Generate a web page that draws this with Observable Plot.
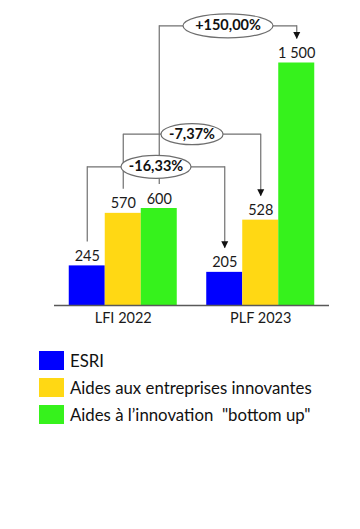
<!DOCTYPE html>
<html><head><meta charset="utf-8">
<script src="https://cdn.jsdelivr.net/npm/d3@7"></script>
<script src="https://cdn.jsdelivr.net/npm/@observablehq/plot@0.6"></script>
<style>
body{margin:0;background:#fff;font-family:Lato,sans-serif;}
#chart{height:335px;}
#legend{margin:16px 0 0 39px;}
.row{display:flex;align-items:center;height:19px;margin-bottom:8px;font-size:16.8px;color:#111;white-space:pre;}
.sw{width:25px;height:19px;margin-right:6px;flex:none;}
</style></head><body><div id="chart"></div><div id="legend"></div>
<script>
// ---- data ----
const groups = ["LFI 2022", "PLF 2023"];
const series = ["ESRI", "Aides aux entreprises innovantes", "Aides à l’innovation  \"bottom up\""];
const valuesLFI = [245, 570, 600];
const valuesPLF = [205, 528, 1500];
// annotations (which series, connector level in data units)
const annotSeries = [2, 1, 0];
const annotLevels = [1730, 1060, 858];

// ---- styles / layout ----
const colors = ["#0000FF", "#FFD814", "#36F21C"];
const lineColor = "#707070";
const barW = 36, step = 137.5, gap = 24;
const ellipseSizes = [[90, 24], [62, 21], [70, 23]];

const loc = d3.formatLocale({decimal: ",", thousands: "\u00a0", grouping: [3], currency: ["", " €"], minus: "-"});
const fmtInt = loc.format(",d");
const fmtPct = v => loc.format("+.2f")(v) + "%";

const rows = [];
groups.forEach((g, gi) => series.forEach((s, si) =>
  rows.push({group: g, series: si, value: (gi === 0 ? valuesLFI : valuesPLF)[si]})));

const annots = annotSeries.map((s, i) => ({
  series: s, from: groups[0], to: groups[1], a: valuesLFI[s], b: valuesPLF[s],
  level: annotLevels[i], label: fmtPct((valuesPLF[s] - valuesLFI[s]) / valuesLFI[s] * 100)
}));

function ellipse(w, h) {
  const rx = w / 2, ry = h / 2, k = 0.5523;
  return {draw(ctx) {
    ctx.moveTo(rx, 0);
    ctx.bezierCurveTo(rx, k * ry, k * rx, ry, 0, ry);
    ctx.bezierCurveTo(-k * rx, ry, -rx, k * ry, -rx, 0);
    ctx.bezierCurveTo(-rx, -k * ry, -k * rx, -ry, 0, -ry);
    ctx.bezierCurveTo(k * rx, -ry, rx, -k * ry, rx, 0);
    ctx.closePath();
  }};
}
const arrowHead = {draw(ctx) { ctx.moveTo(-3.5, -7); ctx.lineTo(3.5, -7); ctx.lineTo(0, 0); ctx.closePath(); }};

const marks = [];
series.forEach((s, si) => {
  const d = rows.filter(r => r.series === si);
  marks.push(Plot.barY(d, {x: "group", y: "value", fill: colors[si], insetLeft: si * barW, insetRight: (2 - si) * barW}));
  marks.push(Plot.text(d, {x: "group", y: "value", text: r => fmtInt(r.value), dx: (si - 1) * barW, dy: -5,
    lineAnchor: "bottom", fontSize: 14.5, fill: "#1a1a1a"}));
});
marks.push(Plot.ruleY([0], {stroke: "#595959", strokeWidth: 1.3}));
annots.forEach(a => {
  const dx = (a.series - 1) * barW;
  marks.push(Plot.ruleX([a], {x: "from", y1: "level", y2: "a", dx, insetBottom: gap, stroke: lineColor, strokeWidth: 1.2}));
  marks.push(Plot.ruleX([a], {x: "to", y1: "level", y2: "b", dx, insetBottom: gap, stroke: lineColor, strokeWidth: 1.2}));
  marks.push(Plot.link([a], {x1: "from", x2: "to", y1: "level", y2: "level", dx, stroke: lineColor, strokeWidth: 1.2}));
});
annots.forEach((a, i) => {
  const dx = (a.series - 1) * barW + step / 2;
  marks.push(Plot.dot([a], {x: "from", y: "level", dx, symbol: ellipse(...ellipseSizes[i]), fill: "white", stroke: "#6e6e6e", strokeWidth: 1.2}));
  marks.push(Plot.text([a], {x: "from", y: "level", dx, text: "label", fontWeight: "bold", fontSize: 14.5, fill: "#111"}));
  marks.push(Plot.dot([a], {x: "to", y: "b", dx: (a.series - 1) * barW, dy: -gap, symbol: arrowHead, fill: "#111", stroke: "none"}));
});

const chart = Plot.plot({
  width: 360, height: 335,
  marginLeft: 54, marginRight: 31, marginTop: 14, marginBottom: 30,
  style: {fontFamily: "Lato, sans-serif", fontSize: "14.5px", background: "white", color: "#1a1a1a"},
  x: {domain: groups, paddingInner: 0.2145, paddingOuter: 0.10727, round: false, tickSize: 0, tickPadding: 7, label: null},
  y: {domain: [0, 1800], axis: null},
  marks
});
document.getElementById("chart").appendChild(chart);

const legend = d3.select("#legend");
series.forEach((s, i) => {
  const r = legend.append("div").attr("class", "row");
  r.append("div").attr("class", "sw").style("background", colors[i]);
  r.append("span").text(s);
});
</script></body></html>
